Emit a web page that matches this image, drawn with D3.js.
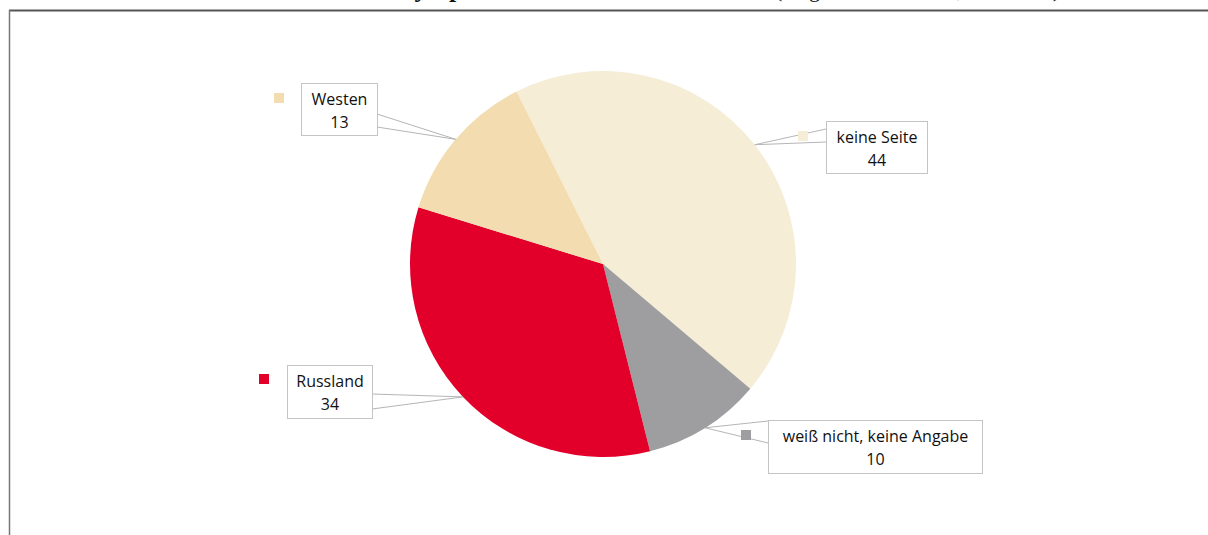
<!DOCTYPE html>
<html>
<head>
<meta charset="utf-8">
<script src="https://cdn.jsdelivr.net/npm/d3@7"></script>
<style>
  html, body { margin: 0; padding: 0; background: #fff; }
  svg { display: block; }
  .lbl { font-family: "Open Sans", sans-serif; font-size: 16px; fill: #111; }
</style>
</head>
<body>
<svg id="chart" width="1208" height="535"></svg>
<script>
// ---- data ----
const categories = ["keine Seite", "weiß nicht, keine Angabe", "Russland", "Westen"];
const values = [44, 10, 34, 13];
const colors = ["#F5EDD6", "#9E9EA0", "#E2002A", "#F2DCB0"];
const titleText = "Sympathien im Ukraine-Konflikt";
const titleSub = "(Angaben in Prozent, Mai 2014)";

// ---- layout ----
const W = 1208, H = 535;
const cx = 603, cy = 264, R = 193;
const svg = d3.select("#chart");

// clipped title (only descenders visible, as in the reference)
const tt = svg.append("text").attr("x", 400).attr("y", -3)
  .attr("text-anchor", "start")
  .attr("font-family", "'Liberation Serif', 'DejaVu Serif', serif")
  .attr("font-size", 26).attr("fill", "#111");
tt.append("tspan").attr("font-weight", "bold").text(titleText + " ");
tt.append("tspan").attr("font-size", 22).text(titleSub);

// frame
svg.append("rect").attr("x", 9).attr("y", 11).attr("width", W).attr("height", H).attr("fill", "#fff");
svg.append("line").attr("x1", 9).attr("y1", 10.5).attr("x2", W).attr("y2", 10.5)
  .attr("stroke", "#555").attr("stroke-width", 2);
svg.append("line").attr("x1", 9.5).attr("y1", 10).attr("x2", 9.5).attr("y2", H)
  .attr("stroke", "#777").attr("stroke-width", 1.5);

// pie
const start = -0.464;
const pie = d3.pie().sort(null).value(d => d)
  .startAngle(start).endAngle(start + 2 * Math.PI);
const arcs = pie(values);
const arc = d3.arc().innerRadius(0).outerRadius(R);
const g = svg.append("g").attr("transform", `translate(${cx},${cy})`);
g.selectAll("path").data(arcs).enter().append("path")
  .attr("d", arc)
  .attr("fill", (d, i) => colors[i]);

// label boxes (layout)
const boxes = [
  { x: 826, y: 121, w: 101, h: 52, side: "left",  y1: 129, y2: 142, sq: [798, 131] },
  { x: 768, y: 420, w: 214, h: 53, side: "left",  y1: 421, y2: 443, sq: [741, 430] },
  { x: 287, y: 365, w: 85,  h: 53, side: "right", y1: 394, y2: 409, sq: [259, 374] },
  { x: 301, y: 83,  w: 76,  h: 52, side: "right", y1: 114, y2: 127, sq: [274, 93] }
];

const lab = svg.append("g");
arcs.forEach((a, i) => {
  const b = boxes[i];
  const mid = (a.startAngle + a.endAngle) / 2;
  const px = cx + R * Math.sin(mid), py = cy - R * Math.cos(mid);
  const ex = b.side === "left" ? b.x : b.x + b.w;
  lab.append("path")
    .attr("d", `M${ex},${b.y1}L${px},${py}L${ex},${b.y2}`)
    .attr("fill", "none").attr("stroke", "#b5b5b5").attr("stroke-width", 1);
  lab.append("rect").attr("x", b.sq[0]).attr("y", b.sq[1]).attr("width", 10).attr("height", 10)
    .attr("fill", colors[i]);
  lab.append("rect").attr("x", b.x + 0.5).attr("y", b.y + 0.5).attr("width", b.w).attr("height", b.h)
    .attr("fill", "#fff").attr("stroke", "#c4c4c4").attr("stroke-width", 1);
  const tx = b.x + b.w / 2 + 0.5;
  lab.append("text").attr("class", "lbl").attr("x", tx).attr("y", b.y + 22)
    .attr("text-anchor", "middle").text(categories[i]);
  lab.append("text").attr("class", "lbl").attr("x", tx).attr("y", b.y + 45)
    .attr("text-anchor", "middle").text(values[i]);
});
</script>
</body>
</html>
